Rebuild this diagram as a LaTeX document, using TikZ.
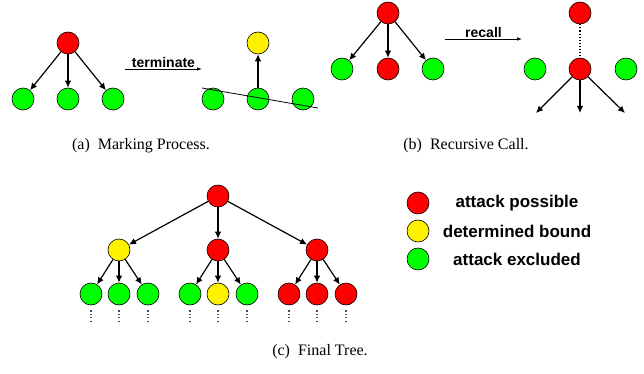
\documentclass[tikz,border=0pt]{standalone}
\usepackage{fontspec}
\setmainfont{Liberation Serif}
\newfontfamily\labelfont{Liberation Sans}
\usetikzlibrary{arrows.meta}

\tikzset{
  vert/.style={circle, draw, line width=0.6pt, minimum size=22pt, inner sep=0pt},
  poss/.style={vert, fill=red},
  bound/.style={vert, fill=yellow},
  excl/.style={vert, fill=green},
  edge/.style={line width=1.2pt, -{Latex[length=7pt,width=6.5pt]}},
  trans/.style={line width=0.8pt, -{Latex[length=5pt,width=3.5pt]}},
  cont/.style={line width=1.1pt, black!70, dash pattern=on 1.2pt off 2.2pt},
  opname/.style={font=\labelfont\bfseries\fontsize{14}{14}\selectfont, inner sep=1pt},
  legtext/.style={font=\labelfont\bfseries\fontsize{17}{17}\selectfont},
  subcap/.style={font=\fontsize{16}{16}\selectfont}
}

\begin{document}
\begin{tikzpicture}[x=1pt, y=-1pt]
  \useasboundingbox (0,0) rectangle (644,374);

  % marking process
  \draw
    (68,43) node[poss] (a0){}
    (23,99) node[excl] (a1){}
    (68,99) node[excl] (a2){}
    (113,99) node[excl] (a3){}
    (258,43) node[bound] (a4){}
    (213,99) node[excl] (a5){}
    (258,99) node[excl] (a6){}
    (303,99) node[excl] (a7){};
  \coordinate (ta) at (125,69);
  \coordinate (tb) at (202,69);
  \coordinate (cut0) at (202,88);
  \coordinate (cut1) at (318,108);
  \begin{scope}[edge]
    \draw (a0) to (a1);
    \draw (a0) to (a2);
    \draw (a0) to (a3);
    \draw (a6) to (a4);
  \end{scope}
  \draw[trans] (ta) to node[opname, above] {terminate} (tb);
  \draw[line width=0.8pt] (cut0) to (cut1);
  \node[subcap] (capa) at (141,146) {(a)~~Marking Process.};

  % recursive call
  \draw
    (388,13) node[poss] (b0){}
    (342,69) node[excl] (b1){}
    (388,69) node[poss] (b2){}
    (433,69) node[excl] (b3){}
    (580,13) node[poss] (b4){}
    (535,69) node[excl] (b5){}
    (580,69) node[poss] (b6){}
    (626,69) node[excl] (b7){};
  \coordinate (ra) at (445,39);
  \coordinate (rb) at (522,39);
  \coordinate (d1) at (536,113);
  \coordinate (d2) at (580,113);
  \coordinate (d3) at (625,113);
  \begin{scope}[edge]
    \draw (b0) to (b1);
    \draw (b0) to (b2);
    \draw (b0) to (b3);
    \draw (b6) to (d1);
    \draw (b6) to (d2);
    \draw (b6) to (d3);
  \end{scope}
  \draw[trans] (ra) to node[opname, above] {recall} (rb);
  \draw[line width=1.1pt, dotted] (b4) to (b6);
  \node[subcap] (capb) at (466,146) {(b)~~Recursive Call.};

  % final tree
  \draw
    (218,196) node[poss] (c){}
    (119,250) node[bound] (c1){}
    (218,250) node[poss] (c2){}
    (317,250) node[poss] (c3){}
    (91,294) node[excl] (c11){}
    (119,294) node[excl] (c12){}
    (148,294) node[excl] (c13){}
    (190,294) node[excl] (c21){}
    (218,294) node[bound] (c22){}
    (247,294) node[excl] (c23){}
    (289,294) node[poss] (c31){}
    (317,294) node[poss] (c32){}
    (346,294) node[poss] (c33){};
  \begin{scope}[edge]
    \draw (c) to (c1);
    \draw (c) to (c2);
    \draw (c) to (c3);
    \draw (c1) to (c11);
    \draw (c1) to (c12);
    \draw (c1) to (c13);
    \draw (c2) to (c21);
    \draw (c2) to (c22);
    \draw (c2) to (c23);
    \draw (c3) to (c31);
    \draw (c3) to (c32);
    \draw (c3) to (c33);
  \end{scope}
  \foreach \n in {c11,c12,c13,c21,c22,c23,c31,c32,c33}
    \draw[cont] ([yshift=-5pt]\n.south) -- ++(0,11);
  \node[subcap] (capc) at (320,352) {(c)~~Final Tree.};

  % legend
  \draw
    (418,203) node[poss] (l1){}
    (418,231) node[bound] (l2){}
    (418,259) node[excl] (l3){};
  \node[legtext] (t1) at (517,203) {attack possible};
  \node[legtext] (t2) at (517,231) {determined bound};
  \node[legtext] (t3) at (517,259) {attack excluded};
\end{tikzpicture}
\end{document}
